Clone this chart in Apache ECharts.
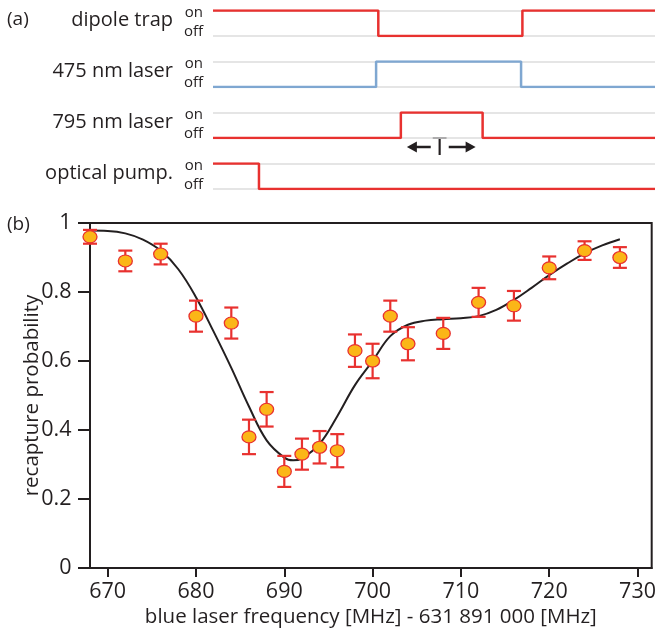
<!DOCTYPE html>
<html><head><meta charset="utf-8">
<script src="https://cdn.jsdelivr.net/npm/echarts@6/dist/echarts.min.js"></script>
<style>html,body{margin:0;padding:0;background:#fff}#c{width:659px;height:634px}</style>
</head><body><div id="c"></div>
<script>
// ---- panel (a): timing sequence (time in arbitrary units 0..100, level 1 = on, 0 = off)
const rowLabels = ['dipole trap', '475 nm laser', '795 nm laser', 'optical pump.'];
const dipoleTrap  = [[0,1],[37.4,1],[37.4,0],[70.0,0],[70.0,1],[100,1]];
const laser475    = [[0,0],[36.9,0],[36.9,1],[69.7,1],[69.7,0],[100,0]];
const laser795    = [[0,0],[42.5,0],[42.5,1],[61.0,1],[61.0,0],[100,0]];
const opticalPump = [[0,1],[10.4,1],[10.4,0],[100,0]];
const pulseT = [42.5, 61.0];
const levelLabels = ['off', 'on'];

// ---- panel (b): recapture probability vs blue laser frequency
const freq = [668,672,676,680,684,686,688,690,692,694,696,698,700,702,704,708,712,716,720,724,728];
const prob = [0.96,0.89,0.91,0.73,0.71,0.38,0.46,0.28,0.33,0.35,0.34,0.63,0.60,0.73,0.65,0.68,0.77,0.76,0.87,0.92,0.90];
const err  = [0.02,0.03,0.03,0.045,0.045,0.05,0.05,0.045,0.045,0.047,0.048,0.047,0.05,0.045,0.048,0.045,0.042,0.043,0.033,0.027,0.03];
const fitX = [668,670,672,674,676,678,680,682,684,686,688,690,691,692,694,696,698,700,702,704,706,708,710,712,714,716,718,720,722,724,726,728];
const fitY = [0.978,0.977,0.970,0.952,0.920,0.866,0.785,0.685,0.580,0.468,0.370,0.320,0.312,0.318,0.360,0.440,0.530,0.600,0.672,0.705,0.717,0.721,0.724,0.730,0.748,0.777,0.812,0.849,0.882,0.912,0.935,0.953];
const xTicks = [670,680,690,700,710,720,730];

const FONT = 'Open Sans';
const TXT = '#231f20';
const RED = '#e8312f';
const BLUE = '#7fa7d1';
const GRAY = '#dcdcdc';

const rows = [dipoleTrap, laser475, laser795, opticalPump];
const rowColors = [RED, BLUE, RED, RED];
const ROW_TOP = 10.5, ROW_STEP = 51, ROW_H = 25.5;

function txt(text, x, y, size, align) {
  return {
    type: 'text', x: x, y: y,
    style: {text: text, align: align || 'left', verticalAlign: 'middle',
            fontFamily: FONT, fontSize: size, fill: TXT}
  };
}

const grids = [], xAxes = [], yAxes = [], series = [], graphics = [];
rows.forEach((d, k) => {
  grids.push({left: 213, width: 442, top: ROW_TOP + ROW_STEP * k, height: ROW_H});
  xAxes.push({type: 'value', gridIndex: k, min: 0, max: 100, show: false});
  yAxes.push({
    type: 'value', gridIndex: k, min: 0, max: 1, interval: 1,
    axisLine: {show: false}, axisTick: {show: false},
    splitLine: {show: true, lineStyle: {color: GRAY, width: 1.5}},
    axisLabel: {
      margin: 10, fontFamily: FONT, fontSize: 15, color: TXT,
      formatter: v => v === 1 ? '{on|' + levelLabels[1] + '}' : '{off|' + levelLabels[0] + '}',
      rich: {
        on: {fontFamily: FONT, fontSize: 15, color: TXT, padding: [4, 0, 0, 0]},
        off: {fontFamily: FONT, fontSize: 15, color: TXT, padding: [0, 0, 9, 0]}
      }
    }
  });
  series.push({
    type: 'line', xAxisIndex: k, yAxisIndex: k, data: d, symbol: 'none',
    lineStyle: {color: rowColors[k], width: 2.5}, z: 3, silent: true
  });
  graphics.push(txt(rowLabels[k], 173, ROW_TOP + ROW_STEP * k + 10, 20, 'right'));
});

// panel (b)
const B = 4;
grids.push({left: 90, top: 223, width: 565, height: 345, show: true, borderColor: TXT, borderWidth: 2});
xAxes.push({
  type: 'value', gridIndex: B, min: 668, max: 731.6,
  name: 'blue laser frequency [MHz] - 631 891 000 [MHz]', nameLocation: 'middle', nameGap: 39,
  nameMoveOverlap: false,
  nameTextStyle: {fontFamily: FONT, fontSize: 20.5, color: TXT},
  axisLine: {lineStyle: {color: TXT, width: 2}},
  axisTick: {length: 9, lineStyle: {color: TXT, width: 2}, customValues: xTicks},
  axisLabel: {fontFamily: FONT, fontSize: 21.5, color: TXT, margin: 13, customValues: xTicks},
  splitLine: {show: false}
});
yAxes.push({
  type: 'value', gridIndex: B, min: 0, max: 1, interval: 0.2,
  name: 'recapture probability', nameLocation: 'middle', nameGap: 47,
  nameMoveOverlap: false,
  nameTextStyle: {fontFamily: FONT, fontSize: 20.5, color: TXT},
  axisLine: {lineStyle: {color: TXT, width: 2}},
  axisTick: {length: 12, lineStyle: {color: TXT, width: 2}},
  axisLabel: {fontFamily: FONT, fontSize: 21.5, color: TXT, margin: 18.5},
  splitLine: {show: false}
});
series.push({
  type: 'line', xAxisIndex: B, yAxisIndex: B, data: fitX.map((x, i) => [x, fitY[i]]),
  smooth: 0.4, symbol: 'none', lineStyle: {color: TXT, width: 2}, z: 2
});
series.push({
  type: 'custom', xAxisIndex: B, yAxisIndex: B, z: 3, clip: false,
  data: freq.map((f, i) => [f, prob[i] - err[i], prob[i] + err[i]]),
  renderItem: (params, api) => {
    const x = api.value(0);
    const pLo = api.coord([x, api.value(1)]);
    const pHi = api.coord([x, api.value(2)]);
    const w = 7;
    const st = {stroke: RED, lineWidth: 2.2};
    return {type: 'group', children: [
      {type: 'line', shape: {x1: pLo[0], y1: pLo[1], x2: pHi[0], y2: pHi[1]}, style: st},
      {type: 'line', shape: {x1: pLo[0] - w, y1: pLo[1], x2: pLo[0] + w, y2: pLo[1]}, style: st},
      {type: 'line', shape: {x1: pHi[0] - w, y1: pHi[1], x2: pHi[0] + w, y2: pHi[1]}, style: st}
    ]};
  }
});
series.push({
  type: 'scatter', xAxisIndex: B, yAxisIndex: B, z: 4, clip: false,
  data: freq.map((f, i) => [f, prob[i]]),
  symbol: 'circle', symbolSize: [14, 12],
  itemStyle: {color: '#fbb617', borderColor: RED, borderWidth: 1.2, opacity: 1}
});

graphics.push(txt('(a)', 7, 20, 19));
graphics.push(txt('(b)', 7, 225, 19));

const chart = echarts.init(document.getElementById('c'), null, {renderer: 'canvas'});
chart.setOption({
  animation: false,
  grid: grids, xAxis: xAxes, yAxis: yAxes, series: series,
  graphic: graphics
});

// duration arrow "T" under the 795 nm pulse
const pA = chart.convertToPixel({gridIndex: 2}, [pulseT[0], 0]);
const pB = chart.convertToPixel({gridIndex: 2}, [pulseT[1], 0]);
const ay = pA[1] + 9;
const mid = (pA[0] + pB[0]) / 2 - 2;
const x1 = pA[0] + 6, x2 = pB[0] - 7;
const head = 10, hh = 5.5;
graphics.push(
  {type: 'line', shape: {x1: x1 + head - 1, y1: ay, x2: mid - 9, y2: ay}, style: {stroke: TXT, lineWidth: 2.5}},
  {type: 'polygon', shape: {points: [[x1, ay], [x1 + head, ay - hh], [x1 + head, ay + hh]]}, style: {fill: TXT}},
  {type: 'line', shape: {x1: mid + 9, y1: ay, x2: x2 - head + 1, y2: ay}, style: {stroke: TXT, lineWidth: 2.5}},
  {type: 'polygon', shape: {points: [[x2, ay], [x2 - head, ay - hh], [x2 - head, ay + hh]]}, style: {fill: TXT}},
  txt('T', mid, ay + 1, 26, 'center')
);
chart.setOption({graphic: graphics});
</script></body></html>
